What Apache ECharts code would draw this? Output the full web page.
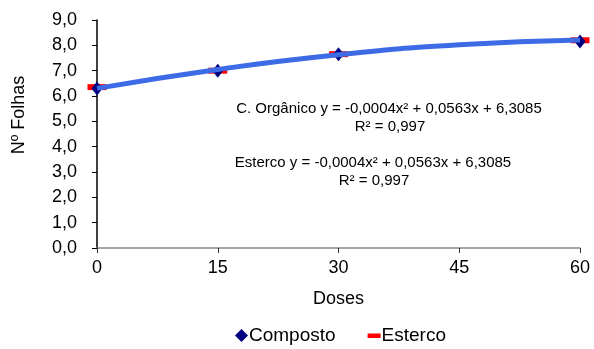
<!DOCTYPE html>
<html>
<head>
<meta charset="utf-8">
<script src="https://cdn.jsdelivr.net/npm/echarts@6/dist/echarts.min.js"></script>
<style>html,body{margin:0;padding:0;background:#fff}#c{width:594px;height:349px}</style>
</head>
<body>
<div id="c"></div>
<script>
const doses = [0, 15, 30, 60];
const composto = [6.3, 7.0, 7.65, 8.15];
const esterco = [6.35, 7.0, 7.65, 8.2];
const trendX = [0, 15, 30, 45, 60];
const trendY = [6.30, 7.05, 7.63, 8.02, 8.21];
const yTicks = [0, 1, 2, 3, 4, 5, 6, 7, 8, 9];
const xTicks = [0, 15, 30, 45, 60];
const eq1 = ['C. Orgânico y = -0,0004x² + 0,0563x + 6,3085', 'R² = 0,997'];
const eq2 = ['Esterco y = -0,0004x² + 0,0563x + 6,3085', 'R² = 0,997'];

const F = 'Liberation Sans, Arial, sans-serif';
const FS = 18;
const chart = echarts.init(document.getElementById('c'));
const pair = (xs, ys) => xs.map((x, i) => [x, ys[i]]);
chart.setOption({
  animation: false,
  grid: {left: 97, right: 14, top: 20, bottom: 101},
  xAxis: {
    type: 'value', min: 0, max: 60, interval: 15,
    name: 'Doses', nameLocation: 'middle', nameGap: 42,
    nameTextStyle: {fontFamily: F, fontSize: FS, color: '#000'},
    axisLine: {lineStyle: {color: '#888', width: 1.5}},
    axisTick: {show: true, length: 5, lineStyle: {color: '#333'}},
    axisLabel: {fontFamily: F, fontSize: FS, color: '#000', margin: 11,
      formatter: v => xTicks.includes(v) ? String(v) : ''},
    splitLine: {show: false}
  },
  yAxis: {
    type: 'value', min: 0, max: 9, interval: 1,
    axisLine: {show: true, lineStyle: {color: '#000', width: 1.5}},
    axisTick: {show: true, length: 5, lineStyle: {color: '#000'}},
    axisLabel: {fontFamily: F, fontSize: FS, color: '#000', margin: 20,
      formatter: v => yTicks.includes(v) ? v.toFixed(1).replace('.', ',') : ''},
    splitLine: {show: false}
  },
  legend: {
    top: 321, left: 230, itemGap: 32, itemWidth: 13, itemHeight: 13,
    textStyle: {fontFamily: F, fontSize: 19, color: '#000', padding: [0, 0, 0, -4]},
    data: [
      {name: 'Composto', icon: 'diamond', itemStyle: {color: '#000080', opacity: 1}},
      {name: 'Esterco', icon: 'path://M0,0h0.01v0.01h-0.01z M0,4.5h13v4.5h-13z M12.99,12.99h0.01v0.01h-0.01z', itemStyle: {color: '#ff0000', opacity: 1}}
    ]
  },
  series: [
    {name: 'Esterco', type: 'scatter', data: pair(doses, esterco), symbol: 'rect',
      symbolSize: [19, 6], itemStyle: {color: '#ff0000', opacity: 1}, z: 2},
    {name: 'Composto', type: 'scatter', data: pair(doses, composto), symbol: 'diamond',
      symbolSize: [11, 14], itemStyle: {color: '#000080', opacity: 1}, z: 3},
    {name: 'trend', type: 'line', data: pair(trendX, trendY), smooth: 0.5, showSymbol: false,
      lineStyle: {color: '#3d6be6', width: 5}, z: 4}
  ],
  graphic: [
    {type: 'text', x: 19, y: 115, rotation: Math.PI / 2,
      style: {text: 'Nº Folhas', font: FS + 'px ' + F, fill: '#000', align: 'center', verticalAlign: 'middle'}},
    {type: 'text', x: 389, y: 109, style: {text: eq1[0], font: '15px ' + F, fill: '#000', align: 'center', verticalAlign: 'middle'}},
    {type: 'text', x: 390, y: 127, style: {text: eq1[1], font: '15px ' + F, fill: '#000', align: 'center', verticalAlign: 'middle'}},
    {type: 'text', x: 373, y: 163, style: {text: eq2[0], font: '15px ' + F, fill: '#000', align: 'center', verticalAlign: 'middle'}},
    {type: 'text', x: 374, y: 181, style: {text: eq2[1], font: '15px ' + F, fill: '#000', align: 'center', verticalAlign: 'middle'}}
  ]
});
</script>
</body>
</html>
